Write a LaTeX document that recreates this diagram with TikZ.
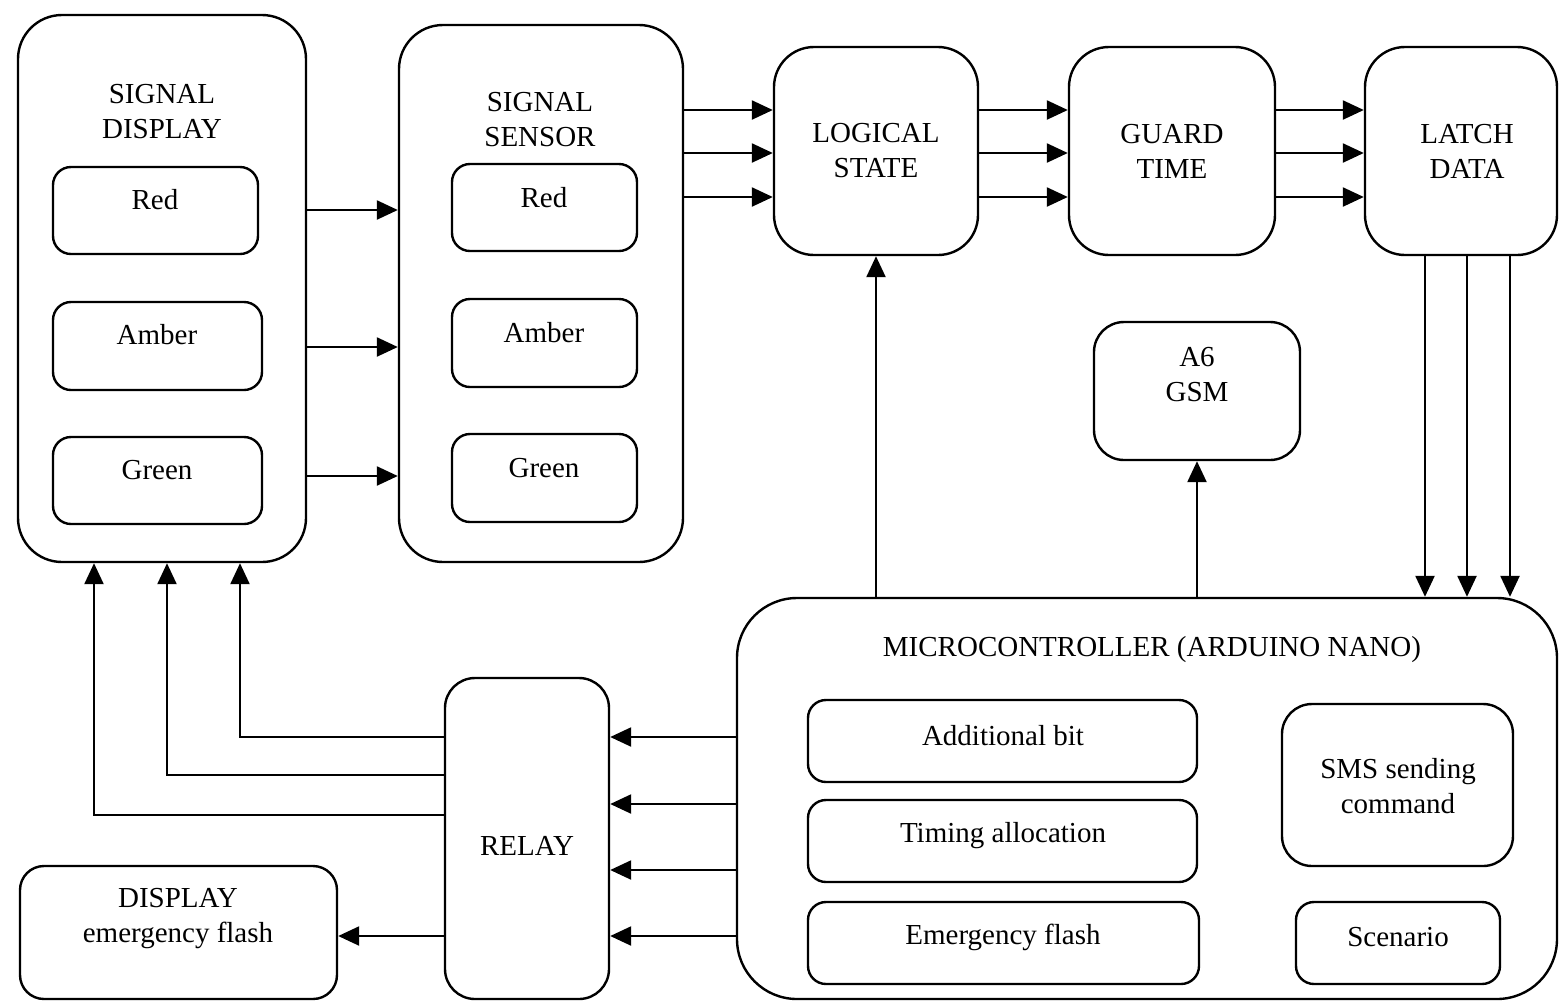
\documentclass[tikz,border=0pt]{standalone}
\usepackage{fontspec}
\setmainfont{Liberation Serif}
\usetikzlibrary{arrows.meta,fit}

\begin{document}
\begin{tikzpicture}[x=0.5pt,y=-0.5pt,>={Triangle[length=10.5pt,width=9.5pt]},line width=1.2pt,
	box/.style={draw,rounded corners=#1,inner sep=0pt},box/.default=9pt,
	txt/.style={align=center,inner sep=0pt,font=\fontsize{14.5}{17.5}\selectfont}]
	\useasboundingbox (0,0) rectangle (1560,1003);
	\node [box=22pt,fit={(18,15) (306,562)}] (disp) {};
	\node [box,fit={(53,167) (258,254)}] (dred) {};
	\node [box,fit={(53,302) (262,390)}] (damb) {};
	\node [box,fit={(53,437) (262,524)}] (dgrn) {};
	\node [box=22pt,fit={(399,25) (683,562)}] (sens) {};
	\node [box,fit={(452,164) (637,251)}] (sred) {};
	\node [box,fit={(452,299) (637,387)}] (samb) {};
	\node [box,fit={(452,434) (637,522)}] (sgrn) {};
	\node [box=20pt,fit={(774,47) (978,255)}] (logic) {};
	\node [box=20pt,fit={(1069,47) (1275,255)}] (guard) {};
	\node [box=20pt,fit={(1365,47) (1557,255)}] (latch) {};
	\node [box=15pt,fit={(1094,322) (1300,460)}] (gsm) {};
	\node [box=30pt,fit={(737,598) (1557,999)}] (micro) {};
	\node [box,fit={(808,700) (1197,782)}] (addbit) {};
	\node [box,fit={(808,800) (1197,882)}] (timing) {};
	\node [box,fit={(808,902) (1199,984)}] (emflash) {};
	\node [box=15pt,fit={(1282,704) (1513,866)}] (sms) {};
	\node [box,fit={(1296,902) (1500,984)}] (scen) {};
	\node [box=15pt,fit={(445,678) (609,999)}] (relay) {};
	\node [box=12pt,fit={(20,866) (337,999)}] (dispem) {};
	\node [txt] at (162,112) {SIGNAL\\DISPLAY};
	\node [txt] at (155,200) {Red};
	\node [txt] at (157,335) {Amber};
	\node [txt] at (157,470) {Green};
	\node [txt] at (540,120) {SIGNAL\\SENSOR};
	\node [txt] at (544,198) {Red};
	\node [txt] at (544,333) {Amber};
	\node [txt] at (544,468) {Green};
	\node [txt] at (876,151) {LOGICAL\\STATE};
	\node [txt] at (1172,151) {GUARD\\TIME};
	\node [txt] at (1467,151) {LATCH\\DATA};
	\node [txt] at (1197,375) {A6\\GSM};
	\node [txt] at (1152,650) {MICROCONTROLLER (ARDUINO NANO)};
	\node [txt] at (1003,736) {Additional bit};
	\node [txt] at (1003,836) {Timing allocation};
	\node [txt] at (1003,937) {Emergency flash};
	\node [txt] at (1398,786) {SMS sending\\command};
	\node [txt] at (1398,937) {Scenario};
	\node [txt] at (527,846) {RELAY};
	\node [txt] at (178,919) {DISPLAY\\emergency flash};
	\foreach \y in {210,347,476}
		\draw [->] (disp.east |- 0,\y) -- (sens.west |- 0,\y);
	\foreach \y in {110,153,197} {
		\draw [->] (sens.east |- 0,\y) -- (logic.west |- 0,\y);
		\draw [->] (logic.east |- 0,\y) -- (guard.west |- 0,\y);
		\draw [->] (guard.east |- 0,\y) -- (latch.west |- 0,\y);
	}
	\foreach \x in {1425,1467,1510}
		\draw [->] (\x,0 |- latch.south) -- (\x,0 |- micro.north);
	\draw [->] (micro.north -| logic.south) -- (logic.south);
	\draw [->] (micro.north -| gsm.south) -- (gsm.south);
	\foreach \y in {737,804,870,936}
		\draw [->] (micro.west |- 0,\y) -- (relay.east |- 0,\y);
	\draw [->] (relay.west |- 0,737) -| (240,0 |- disp.south);
	\draw [->] (relay.west |- 0,775) -| (167,0 |- disp.south);
	\draw [->] (relay.west |- 0,815) -| (94,0 |- disp.south);
	\draw [->] (relay.west |- 0,936) -- (dispem.east |- 0,936);
\end{tikzpicture}
\end{document}
